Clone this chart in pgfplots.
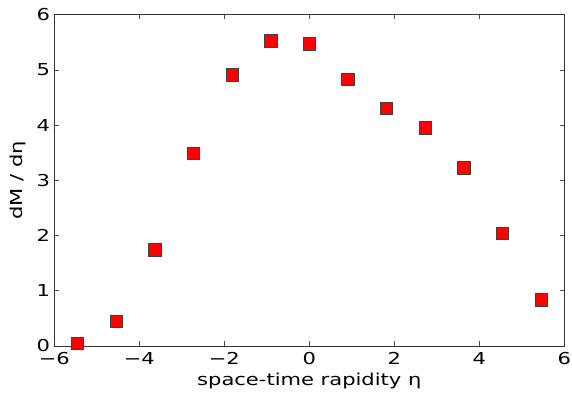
\documentclass[border=0pt]{standalone}
\usepackage{pgfplots}
\pgfplotsset{compat=1.18}
\usepackage{fontspec}
\setmainfont{DejaVu Sans}[FakeStretch=1.28]
\begin{document}
\begin{tikzpicture}
\path[use as bounding box] (-54.3bp,-48bp) rectangle (517.7bp,346bp);
\begin{axis}[
  at={(0,0)}, anchor=south west,
  scale only axis,
  width=510bp, height=331.3bp,
  xmin=-6, xmax=6, ymin=0, ymax=6,
  xtick={-6,-4,-2,0,2,4,6},
  xticklabels={−6,−4,−2,0,2,4,6},
  ytick={0,1,2,3,4,5,6},
  yticklabels={0,1,2,3,4,5,6},
  tick align=inside,
  major tick length=4.5bp,
  tick style={black!70, line width=0.6bp},
  axis line style={black!80, line width=1bp},
  every tick label/.append style={font=\fontsize{16.5}{19}\selectfont, inner sep=0pt},
  xticklabel style={yshift=-6.5bp},
  yticklabel style={xshift=-4bp},
  xlabel={space-time rapidity η},
  ylabel={dM / dη},
  label style={font=\fontsize{16.5}{19}\selectfont},
  xlabel style={at={(axis description cs:0.5,0)}, anchor=north, yshift=-23bp},
  ylabel style={at={(axis description cs:0,0.5)}, anchor=south, yshift=25bp},
]
\addplot[only marks, mark=square*, mark size=6.2bp,
  mark options={fill=red, draw=black!75, line width=0.6bp}]
  coordinates {
  (-5.4545,0.05) (-4.5455,0.45) (-3.6364,1.74) (-2.7273,3.49) (-1.8182,4.91)
  (-0.9091,5.53) (0,5.47) (0.9091,4.83) (1.8182,4.30) (2.7273,3.95)
  (3.6364,3.23) (4.5455,2.04) (5.4545,0.84)
  };
\end{axis}
\end{tikzpicture}
\end{document}
